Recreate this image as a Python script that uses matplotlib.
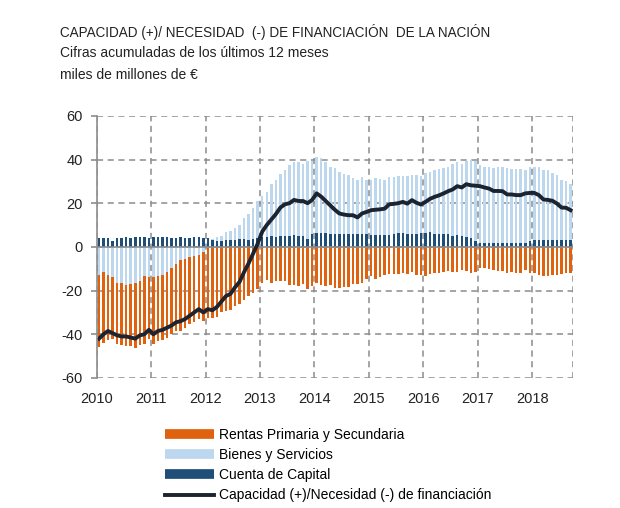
import numpy as np
import matplotlib
matplotlib.use("Agg")
import matplotlib.pyplot as plt
from matplotlib.lines import Line2D

plt.rcParams['font.family'] = ['Liberation Sans', 'DejaVu Sans']
plt.rcParams['axes.unicode_minus'] = False

# datos mensuales, ene-2010 a sep-2018 (miles de millones de euros)
capital = [4, 4, 4, 2.5, 4, 4, 4.5, 4, 4.5, 4.5, 4.5, 4,
           4.5, 4.5, 4.5, 4.5, 4, 4, 4.5, 4, 4, 4.5, 4.5, 4,
           4, 3, 2.5, 2.5, 3, 3, 3, 3.5, 3.5, 3, 3.5, 4,
           4.5, 4.5, 5, 4.5, 5, 5, 5, 5.5, 5, 5, 3.5, 6,
           6.5, 6.5, 6.5, 6, 6, 6, 6, 6, 6, 6, 6, 6,
           5.5, 5.5, 5.5, 5.5, 5.5, 6, 6.5, 6.5, 6, 6, 6, 6.5,
           6.5, 7, 6, 6, 6, 6, 5, 5.5, 5, 4.5, 4, 2.5,
           2, 2, 2, 2, 2, 2, 2, 2, 2, 2, 2, 2.5,
           3, 3, 3, 3, 3, 3, 3, 3, 3]

bienes = [-13, -11.5, -13, -14, -16.5, -16.5, -17.5, -17, -16.5, -15.5, -13.5, -14,
          -14, -13.5, -13, -11.5, -9.5, -8, -6, -5.5, -4.5, -4, -3.5, -2.5,
          -0.5, 0.5, 2, 2.5, 4, 4.5, 5.5, 6.5, 9.5, 12, 14.5, 17,
          19, 20.5, 24, 26, 28.5, 30, 32.5, 33.5, 34, 33, 36, 33.5,
          34.5, 34, 32.5, 30.5, 30, 28.5, 27.5, 27, 25.5, 24.5, 26, 24.5,
          25, 26, 25.5, 25, 26.5, 26, 26, 26, 26.5, 27, 27, 26,
          27.5, 27.5, 29, 29.5, 30, 30.5, 33, 33.5, 33, 35, 36, 37,
          35.5, 34.5, 34.5, 34, 34.5, 34.5, 34, 33.5, 33.5, 33.5, 33, 34,
          33.5, 33.5, 32, 32, 31, 30, 27.5, 27, 26]

rentas = [-33, -32.5, -29.5, -28, -28, -28.5, -28, -28.5, -30, -29.5, -31, -28,
          -30.5, -29.5, -29.5, -30, -30.5, -30.5, -32.5, -31.5, -31, -30.5, -29.5, -31.5,
          -32, -32.5, -32, -30, -29.5, -29, -27, -26, -24.5, -22.5, -21, -19.5,
          -16.5, -15, -16.5, -15.5, -15.5, -15.5, -17.5, -17.5, -18, -17, -19.5, -18,
          -16.5, -17.5, -18, -17.5, -19, -19, -18.5, -18.5, -17, -17, -16.5, -14.5,
          -13.5, -14.5, -14, -13, -12.5, -12.5, -12.5, -12, -12.5, -11.5, -13, -13,
          -13.5, -12.5, -12, -12, -11.5, -11, -11.5, -11.5, -10.5, -11, -12, -11.5,
          -9.5, -9.5, -10, -10.5, -11, -11, -12, -11.5, -12, -12, -10.5, -12,
          -12, -13, -13.5, -13.5, -13, -13, -12.5, -12, -12]

capacidad = [-42, -40, -38.5, -39.5, -40.5, -41, -41, -41.5, -42, -40.5, -40, -38,
             -40, -38.5, -38, -37, -36, -34.5, -34, -33, -31.5, -30, -28.5, -30,
             -28.5, -29, -27.5, -25, -22.5, -21.5, -18.5, -16, -11.5, -7.5, -3, 1.5,
             7, 10, 12.5, 15, 18, 19.5, 20, 21.5, 21, 21, 20, 21.5,
             24.5, 23, 21, 19, 17, 15.3, 14.8, 14.5, 14.5, 13.5, 15.3, 16,
             16.8, 17, 17.2, 17.5, 19.5, 19.7, 20, 20.6, 19.8, 21.4, 20.2, 19.4,
             20.6, 22, 22.9, 23.6, 24.5, 25.5, 26.3, 27.8, 27.2, 28.7, 28.2, 28,
             27.8, 27.2, 26.7, 25.6, 25.6, 25.5, 24, 24, 23.7, 23.7, 24.5, 24.7,
             24.7, 23.7, 21.7, 21.5, 21.1, 19.8, 18, 17.9, 16.8]

years = list(range(2010, 2019))

c_rent = '#E0620F'
c_bys = '#BDD7EE'
c_cap = '#1F4E79'
c_line = '#1C2430'

cap = np.array(capital)
bys = np.array(bienes)
ren = np.array(rentas)
x = 2010 + (np.arange(len(cap)) + 0.5) / 12.0
w = 0.55 / 12

fig = plt.figure(figsize=(6.2, 5.08), dpi=100)
ax = fig.add_axes([0.156, 0.256, 0.768, 0.516])

# pila positiva: capital desde 0, bienes encima si son positivos
# pila negativa: bienes desde 0 si son negativos, rentas debajo
bys_bottom = np.where(bys >= 0, cap, 0)
ren_bottom = np.minimum(bys, 0)
ax.bar(x, bys, width=w, bottom=bys_bottom, color=c_bys, zorder=2)
ax.bar(x, ren, width=w, bottom=ren_bottom, color=c_rent, zorder=2)
ax.bar(x, cap, width=w, bottom=0, color=c_cap, zorder=2)
ax.plot(x, capacidad, color=c_line, lw=2.8, zorder=4, solid_joinstyle='round')

ax.axhline(0, color='#8c8c8c', lw=1.2, zorder=3)

ax.set_xlim(2010, 2010 + len(cap) / 12.0)
ax.set_ylim(-60, 60)
ax.set_yticks(range(-60, 61, 20))
ax.set_xticks(years)
ax.set_xticklabels([str(y) for y in years])

for s in ['top', 'right', 'bottom']:
    ax.spines[s].set_visible(False)
ax.spines['left'].set_color('#8c8c8c')
ax.spines['left'].set_linewidth(1.2)
ax.spines['left'].set_zorder(5)

ax.grid(True, color='#8c8c8c', linestyle=(0, (4, 3)), lw=1.1, zorder=1)
# borde derecho discontinuo como la rejilla
ax.axvline(ax.get_xlim()[1], color='#8c8c8c', linestyle=(0, (4, 3)), lw=1.1, zorder=1)

ax.tick_params(axis='y', length=4, width=1.2, color='#8c8c8c', labelsize=10.5,
               labelcolor='#222222', pad=6)
ax.tick_params(axis='x', length=0, labelsize=10.5, labelcolor='#222222', pad=10)

fig.text(0.097, 0.937, 'CAPACIDAD (+)/ NECESIDAD  (-) DE FINANCIACIÓN  DE LA NACIÓN',
         fontsize=9.75, va='center', ha='left', color='#222222')
fig.text(0.097, 0.896, 'Cifras acumuladas de los últimos 12 meses',
         fontsize=10, va='center', ha='left', color='#222222')
fig.text(0.097, 0.852, 'miles de millones de €',
         fontsize=10, va='center', ha='left', color='#222222')

handles = [Line2D([0], [0], color=c_rent, lw=7, solid_capstyle='butt'),
           Line2D([0], [0], color=c_bys, lw=7, solid_capstyle='butt'),
           Line2D([0], [0], color=c_cap, lw=7, solid_capstyle='butt'),
           Line2D([0], [0], color=c_line, lw=2.8)]
labels = ['Rentas Primaria y Secundaria', 'Bienes y Servicios', 'Cuenta de Capital',
          'Capacidad (+)/Necesidad (-) de financiación']
fig.legend(handles, labels, loc='upper left', bbox_to_anchor=(0.266, 0.158),
           frameon=False, fontsize=10, handlelength=3.5, handletextpad=0.36,
           labelspacing=0.45, borderpad=0, borderaxespad=0)

fig.savefig('out.png', dpi=100)
